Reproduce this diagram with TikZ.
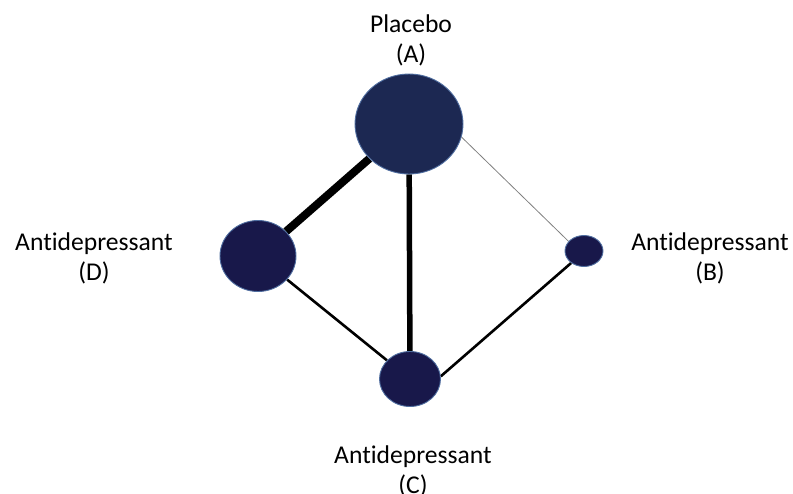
\documentclass[tikz,border=0pt]{standalone}
\usepackage{fontspec}
\setmainfont[Ligatures=NoCommon]{Carlito}
\usetikzlibrary{shapes.geometric,backgrounds}
\definecolor{navyA}{RGB}{28,40,82}
\definecolor{navyB}{RGB}{24,24,74}
\definecolor{rimblue}{RGB}{80,110,160}
\begin{document}
\begin{tikzpicture}[x=1pt, y=-1pt,
    every node/.style={font=\fontsize{25.6}{30}\selectfont},
    trt/.style={ellipse, draw=rimblue, line width=0.9pt, fill=navyB, inner sep=0pt},
    lbl/.style={align=center, inner sep=0pt}]
    \useasboundingbox (0,0) rectangle (793,493);
    % Treatments
        \node[trt, fill=navyA, minimum width=108, minimum height=100] (A) at (409,124) {};
        \node[trt, minimum width=76, minimum height=71] (D) at (258,256) {};
        \node[trt, minimum width=38, minimum height=31] (B) at (584,251) {};
        \node[trt, minimum width=61, minimum height=55] (C) at (410,379) {};
    % Labels
        \node[lbl] (lA) at (411,40) {Placebo\\(A)};
        \node[lbl] (lD) at (94,258) {Antidepressant\\(D)};
        \node[lbl] (lB) at (710,258) {Antidepressant\\(B)};
        \node[lbl] (lC) at (413,471) {Antidepressant\\(C)};
    % Comparisons
        \begin{pgfonlayer}{background}
            \draw[line width=8pt] (A) -- (D);
            \draw[line width=5.5pt] (A) -- (C);
            \draw[gray, line width=0.8pt] (A.-14) -- (B.148);
            \draw[line width=2.6pt] (D) -- (C);
            \draw[line width=2.6pt] (C.5) -- (B.223);
        \end{pgfonlayer}
\end{tikzpicture}
\end{document}
